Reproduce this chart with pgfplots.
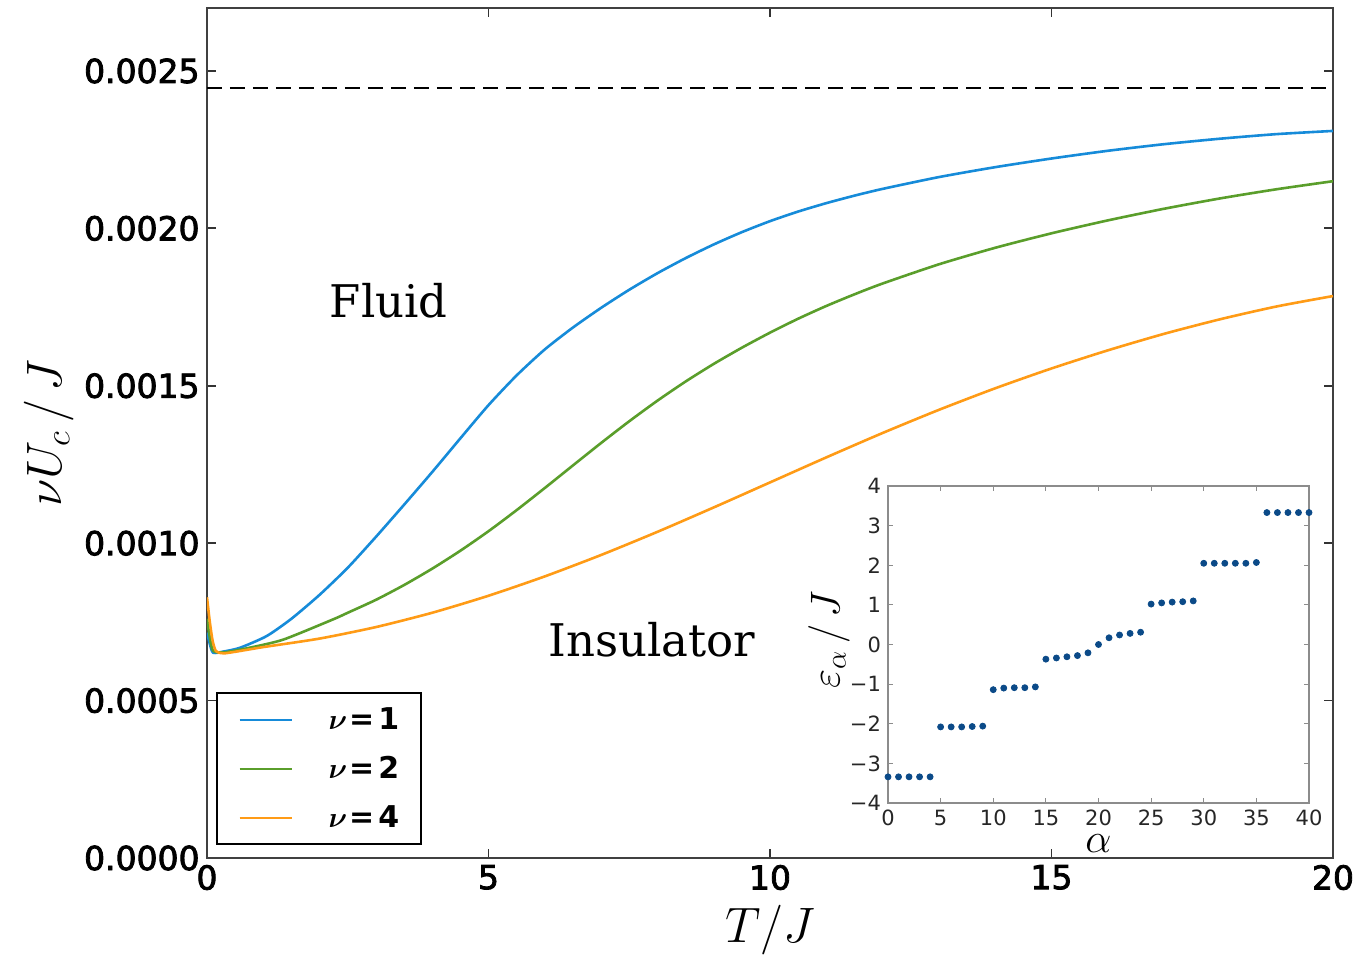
\documentclass[border=0pt]{standalone}
\usepackage{pgfplots}
\pgfplotsset{compat=1.18}
\usepackage{fontspec}
\setmainfont{DejaVu Sans}
\newfontfamily\labserif{DejaVu Serif}
\newfontfamily\tickfont{DejaVu Sans}[FakeBold=2.5]
\definecolor{cblue}{HTML}{168BD9}
\definecolor{cgreen}{HTML}{5A9E2B}
\definecolor{corange}{HTML}{FF9B16}
\definecolor{cdot}{HTML}{0B4A88}

\pgfplotstableread{
x y
0 0.000716
0.05 0.00068
0.11 0.000652
0.3 0.000656
0.59 0.000668
1.06 0.000705
1.5 0.00076
2.0 0.000836
2.5 0.000922
3.0 0.00102
3.5 0.001122
4.0 0.001226
4.5 0.001333
5.0 0.0014385
5.5 0.001533
6.0 0.0016155
6.5 0.001685
7.0 0.0017475
7.5 0.001805
8.0 0.0018575
8.5 0.0019053
9.0 0.0019488
9.5 0.001988
10.0 0.0020229
10.5 0.0020534
11.0 0.0020801
11.5 0.0021039
12.0 0.0021254
13.0 0.0021629
14.0 0.0021944
15.0 0.0022219
16.0 0.0022464
17.0 0.0022674
18.0 0.0022849
19.0 0.0022994
20 0.0023095
}\nuone

\pgfplotstableread{
x y
0 0.000760
0.05 0.00070
0.11 0.000658
0.3 0.000653
0.76 0.000668
1.36 0.000694
2.24 0.000758
2.5 0.000779
3.0 0.00082
3.5 0.000867
4.0 0.000919
4.5 0.000976
5.0 0.001038
5.5 0.001105
6.0 0.0011753
6.5 0.001247
7.0 0.0013183
7.5 0.0013873
8.0 0.0014526
8.5 0.0015134
9.0 0.0015694
9.5 0.0016209
10.0 0.0016687
10.5 0.001713
11.0 0.0017535
11.5 0.0017905
12.0 0.0018248
13.0 0.0018858
14.0 0.0019383
15.0 0.0019843
16.0 0.0020253
17.0 0.0020623
18.0 0.0020953
19.0 0.0021243
20 0.0021498
}\nutwo

\pgfplotstableread{
x y
0 0.000828
0.05 0.00075
0.1 0.00069
0.16 0.000657
0.3 0.00065
0.7 0.000661
1.0 0.000670
2.0 0.000697
3.0 0.0007335
4.0 0.000779
5.0 0.000833
6.0 0.0008945
7.0 0.0009625
8.0 0.001036
9.0 0.0011135
10.0 0.001193
11.0 0.0012725
12.0 0.00135
13.0 0.0014235
14.0 0.001492
15.0 0.001555
16.0 0.0016125
17.0 0.001665
18.0 0.0017115
19.0 0.001752
20 0.001785
}\nufour

\pgfplotstableread{
a e
0 -3.34
1 -3.34
2 -3.34
3 -3.34
4 -3.34
5 -2.08
6 -2.08
7 -2.08
8 -2.07
9 -2.06
10 -1.14
11 -1.10
12 -1.09
13 -1.09
14 -1.07
15 -0.37
16 -0.34
17 -0.31
18 -0.28
19 -0.21
20 0.00
21 0.17
22 0.24
23 0.28
24 0.31
25 1.02
26 1.05
27 1.07
28 1.08
29 1.10
30 2.05
31 2.05
32 2.05
33 2.05
34 2.05
35 2.07
36 3.33
37 3.33
38 3.33
39 3.33
40 3.33
}\levels

\begin{document}
\begin{tikzpicture}
\path[use as bounding box] (-103.5pt,-50pt) rectangle (576.5pt,429pt);
\begin{axis}[
  at={(0pt,0pt)}, anchor=south west,
  scale only axis, width=563pt, height=425pt,
  xmin=0, xmax=20, ymin=0, ymax=0.0027,
  xtick={0,5,10,15,20}, xticklabels={0,5,10,15,20},
  ytick={0,0.0005,0.001,0.0015,0.002,0.0025},
  yticklabels={0.0000,0.0005,0.0010,0.0015,0.0020,0.0025},
  scaled y ticks=false,
  tick align=inside, major tick length=4.5pt, tick pos=both,
  axis line style={black!75, line width=1pt},
  every tick/.style={black!80, line width=0.9pt},
  ticklabel style={font=\tickfont\fontsize{16.5}{16.5}\selectfont},
  yticklabel style={inner xsep=3.5pt},
  xlabel={$T/J$}, ylabel={$\nu U_c\,/\,J$},
  xlabel style={font=\fontsize{26}{30}\selectfont, at={(axis description cs:0.5,-0.085)}, anchor=center},
  ylabel style={font=\fontsize{26}{30}\selectfont, at={(axis description cs:-0.14,0.5)}, anchor=center},
  legend style={at={(axis description cs:0.008,0.0153)}, anchor=south west,
    draw=black, line width=0.8pt, inner xsep=11pt, inner ysep=7pt,
    row sep=12pt, column sep=18pt, font=\fontsize{15}{15}\selectfont,
    nodes={inner sep=0pt}},
  legend cell align=left,
  legend image code/.code={\draw[#1, line width=0.9pt] (0pt,0pt) -- (26pt,0pt);},
]
\addplot[black, line width=0.6pt, dash pattern=on 7.5pt off 4pt, forget plot] coordinates {(0,0.002446) (20,0.002446)};
\addplot[cblue, line width=1.3pt, smooth, tension=0.4] table[x=x,y=y] {\nuone};
\addlegendentry{{\boldmath$\nu$}\kern1pt\textbf{=}\kern2pt\textbf{1}}
\addplot[cgreen, line width=1.3pt, smooth, tension=0.4] table[x=x,y=y] {\nutwo};
\addlegendentry{{\boldmath$\nu$}\kern1pt\textbf{=}\kern2pt\textbf{2}}
\addplot[corange, line width=1.3pt, smooth, tension=0.4] table[x=x,y=y] {\nufour};
\addlegendentry{{\boldmath$\nu$}\kern1pt\textbf{=}\kern2pt\textbf{4}}
\node[font=\labserif\fontsize{22.5}{24}\selectfont, inner sep=0pt, anchor=center] at (axis cs:3.23,0.001771) {Fluid};
\node[font=\labserif\fontsize{22.5}{24}\selectfont, inner sep=0pt, anchor=center] at (axis cs:7.90,0.000694) {Insulator};
\end{axis}
\begin{axis}[
  at={(340.5pt,27.5pt)}, anchor=south west,
  scale only axis, width=210.5pt, height=158.5pt,
  xmin=0, xmax=40, ymin=-4, ymax=4,
  xtick={0,5,10,15,20,25,30,35,40}, xticklabels={0,5,10,15,20,25,30,35,40},
  ytick={-4,-3,-2,-1,0,1,2,3,4}, yticklabels={−4,−3,−2,−1,0,1,2,3,4},
  tick align=inside, major tick length=2.5pt, tick pos=both,
  axis line style={black!45, line width=0.8pt},
  every tick/.style={black!45, line width=0.6pt},
  ticklabel style={font=\fontsize{10.5}{10.5}\selectfont, text=black!85},
  xlabel={$\alpha$}, ylabel={$\varepsilon_\alpha\,/\,J$},
  xlabel style={font=\fontsize{21}{24}\selectfont, at={(axis description cs:0.5,-0.128)}, anchor=center},
  ylabel style={font=\fontsize{21}{24}\selectfont, at={(axis description cs:-0.14,0.515)}, anchor=center},
  axis background/.style={fill=white},
]
\addplot[only marks, mark=*, mark size=1.5pt, color=cdot] table[x=a,y=e] {\levels};
\end{axis}
\end{tikzpicture}
\end{document}
